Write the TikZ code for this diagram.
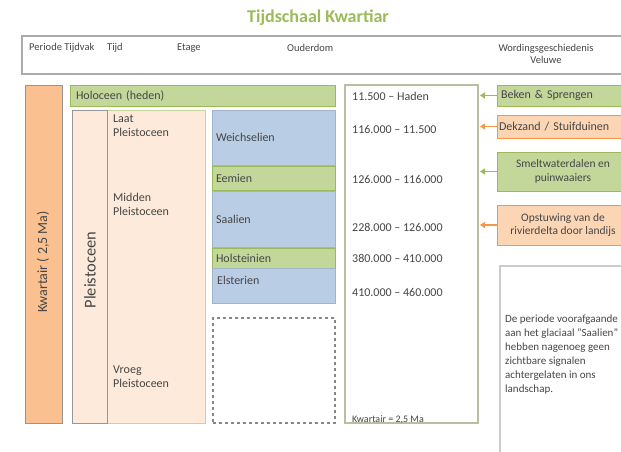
\documentclass[tikz,border=0pt]{standalone}
\usepackage{fontspec}
\setmainfont{Carlito}
\usetikzlibrary{arrows.meta,positioning}
\definecolor{kw_green}{RGB}{155,187,89}
\definecolor{kw_greenfill}{RGB}{196,215,155}
\definecolor{kw_blue}{RGB}{185,205,229}
\definecolor{kw_blueline}{RGB}{160,182,200}
\definecolor{kw_orange}{RGB}{247,150,70}
\definecolor{kw_orangefill}{RGB}{252,213,181}
\definecolor{kw_kwartair}{RGB}{250,192,144}
\definecolor{kw_peach}{RGB}{253,234,218}
\definecolor{kw_text}{RGB}{70,70,70}
\definecolor{kw_grey}{RGB}{150,150,150}

\begin{document}
\begin{tikzpicture}[x=1pt,y=-1pt,
  every node/.style={text=kw_text,font=\fontsize{12}{14}\selectfont},
  box/.style={draw,inner sep=0pt,outer sep=0pt,line width=1pt},
  green_box/.style={box,draw=kw_green,fill=kw_greenfill},
  blue_box/.style={box,draw=kw_blueline,fill=kw_blue},
  orange_box/.style={box,draw=kw_orange,fill=kw_orangefill},
  label_text/.style={anchor=west,align=left,inner sep=0pt},
  head_text/.style={label_text,font=\fontsize{10.5}{12}\selectfont},
  side_arrow/.style={-{Triangle[length=5pt,width=6pt]},line width=1.6pt,shorten >=2pt}]

  \clip (0,0) rectangle (621,452);
  \fill[white] (0,0) rectangle (621,452);

  % titel en kop
  \node[text=kw_green,font=\fontsize{18}{20}\selectfont\bfseries] (title) at (318,18) {Tijdschaal Kwartiar};
  \node[box,draw=kw_grey!80,line width=1.5pt,minimum width=640pt,minimum height=38pt] (header) at (342,55) {};
  \node[head_text] (h_periode) at (29,48) {Periode Tijdvak};
  \node[head_text] (h_tijd) at (107,48) {Tijd};
  \node[head_text] (h_etage) at (177,48) {Etage};
  \node[head_text] (h_ouderdom) at (287,48) {Ouderdom};
  \node[align=center,inner sep=0pt,font=\fontsize{10.5}{12}\selectfont] (h_wording) at (546,54) {Wordingsgeschiedenis\\Veluwe};

  % periode en tijdvak
  \node[box,draw=kw_grey,fill=kw_kwartair,minimum width=37pt,minimum height=338pt] (kwartair) at (43.5,254) {};
  \node[rotate=90,font=\fontsize{14}{16}\selectfont] (kwartair_txt) at (43,262) {Kwartair ( 2,5 Ma)};
  \node[green_box,minimum width=265pt,minimum height=21pt,text width=253pt,align=left] (holoceen) at (202.5,95.5) {Holoceen (heden)};
  \node[box,draw=kw_greenfill,fill=kw_peach,minimum width=98pt,minimum height=313pt] (tijd) at (156,266.5) {};
  \node[box,draw=kw_grey,fill=kw_peach,minimum width=35pt,minimum height=313pt] (pleistoceen) at (89.5,266.5) {};
  \node[rotate=90,font=\fontsize{16.5}{18}\selectfont] (pleistoceen_txt) at (90,270) {Pleistoceen};
  \node[label_text,anchor=north west] (laat) at (113,115) {Laat\\Pleistoceen};
  \node[label_text,anchor=north west] (midden) at (113,193) {Midden\\Pleistoceen};
  \node[label_text,anchor=north west] (vroeg) at (113,366) {Vroeg\\Pleistoceen};

  % etages
  \node[blue_box,minimum width=123pt,minimum height=55pt,text width=115pt,align=left] (weichselien) at (273.5,137.5) {Weichselien};
  \node[green_box,minimum width=123pt,minimum height=24pt,text width=115pt,align=left] (eemien) at (273.5,178) {Eemien};
  \node[blue_box,minimum width=123pt,minimum height=56pt,text width=115pt,align=left] (saalien) at (273.5,219) {Saalien};
  \node[green_box,minimum width=123pt,minimum height=20pt,text width=115pt,align=left] (holsteinien) at (273.5,258) {Holsteinien};
  \node[blue_box,minimum width=123pt,minimum height=35pt] (elsterien) at (273.5,285.5) {};
  \node[label_text,anchor=north west] (elsterien_txt) at (217,276) {Elsterien};
  \node[box,draw=kw_grey!90!black,dashed,line width=1.2pt,minimum width=122pt,minimum height=105pt] (onbekend) at (274,370.5) {};

  % ouderdom
  \node[box,draw=kw_green!45!kw_grey!70,line width=2pt,fill=white,minimum width=133pt,minimum height=338pt] (ouderdom) at (411.5,254) {};
  \node[label_text] (d_heden) at (352,96) {11.500 -- Haden};
  \node[label_text] (d_weichsel) at (352,129) {116.000 -- 11.500};
  \node[label_text] (d_eem) at (352,179) {126.000 -- 116.000};
  \node[label_text] (d_saale) at (352,227) {228.000 -- 126.000};
  \node[label_text] (d_holstein) at (352,258) {380.000 -- 410.000};
  \node[label_text] (d_elster) at (352,292) {410.000 -- 460.000};
  \node[label_text,font=\fontsize{10}{12}\selectfont] (d_kwartair) at (352,420) {Kwartair = 2,5 Ma};

  % wordingsgeschiedenis
  \node[green_box,minimum width=140pt,minimum height=21pt,text width=132pt,align=left] (beken) at (567,95.5) {Beken \& Sprengen};
  \node[orange_box,minimum width=140pt,minimum height=23pt,text width=136pt,align=left] (dekzand) at (567,126.5) {Dekzand / Stuifduinen};
  \node[green_box,minimum width=140pt,minimum height=39pt] (smeltwater) at (567,171.5) {};
  \node[align=center,inner sep=0pt,font=\fontsize{11.5}{13.5}\selectfont] (smeltwater_txt) at (563,171.5) {Smeltwaterdalen en\\puinwaaiers};
  \node[orange_box,minimum width=140pt,minimum height=40pt] (opstuwing) at (567,225) {};
  \node[align=center,inner sep=0pt,font=\fontsize{11.5}{13.5}\selectfont] (opstuwing_txt) at (563,225) {Opstuwing van de\\rivierdelta door landijs};
  \node[box,draw=kw_grey!50,line width=1.2pt,minimum width=160pt,minimum height=194pt] (toelichting) at (580,363) {};
  \node[label_text,anchor=north west,font=\fontsize{11}{14}\selectfont] (toelichting_txt) at (505,315) {De periode voorafgaande\\aan het glaciaal "Saalien"\\hebben nagenoeg geen\\zichtbare signalen\\achtergelaten in ons\\landschap.};

  \draw[side_arrow,kw_green] (beken) -- (beken -| ouderdom.east);
  \draw[side_arrow,kw_orange] (dekzand) -- (dekzand -| ouderdom.east);
  \draw[side_arrow,kw_green] (smeltwater) -- (smeltwater -| ouderdom.east);
  \draw[side_arrow,kw_orange] (opstuwing) -- (opstuwing -| ouderdom.east);
\end{tikzpicture}
\end{document}
